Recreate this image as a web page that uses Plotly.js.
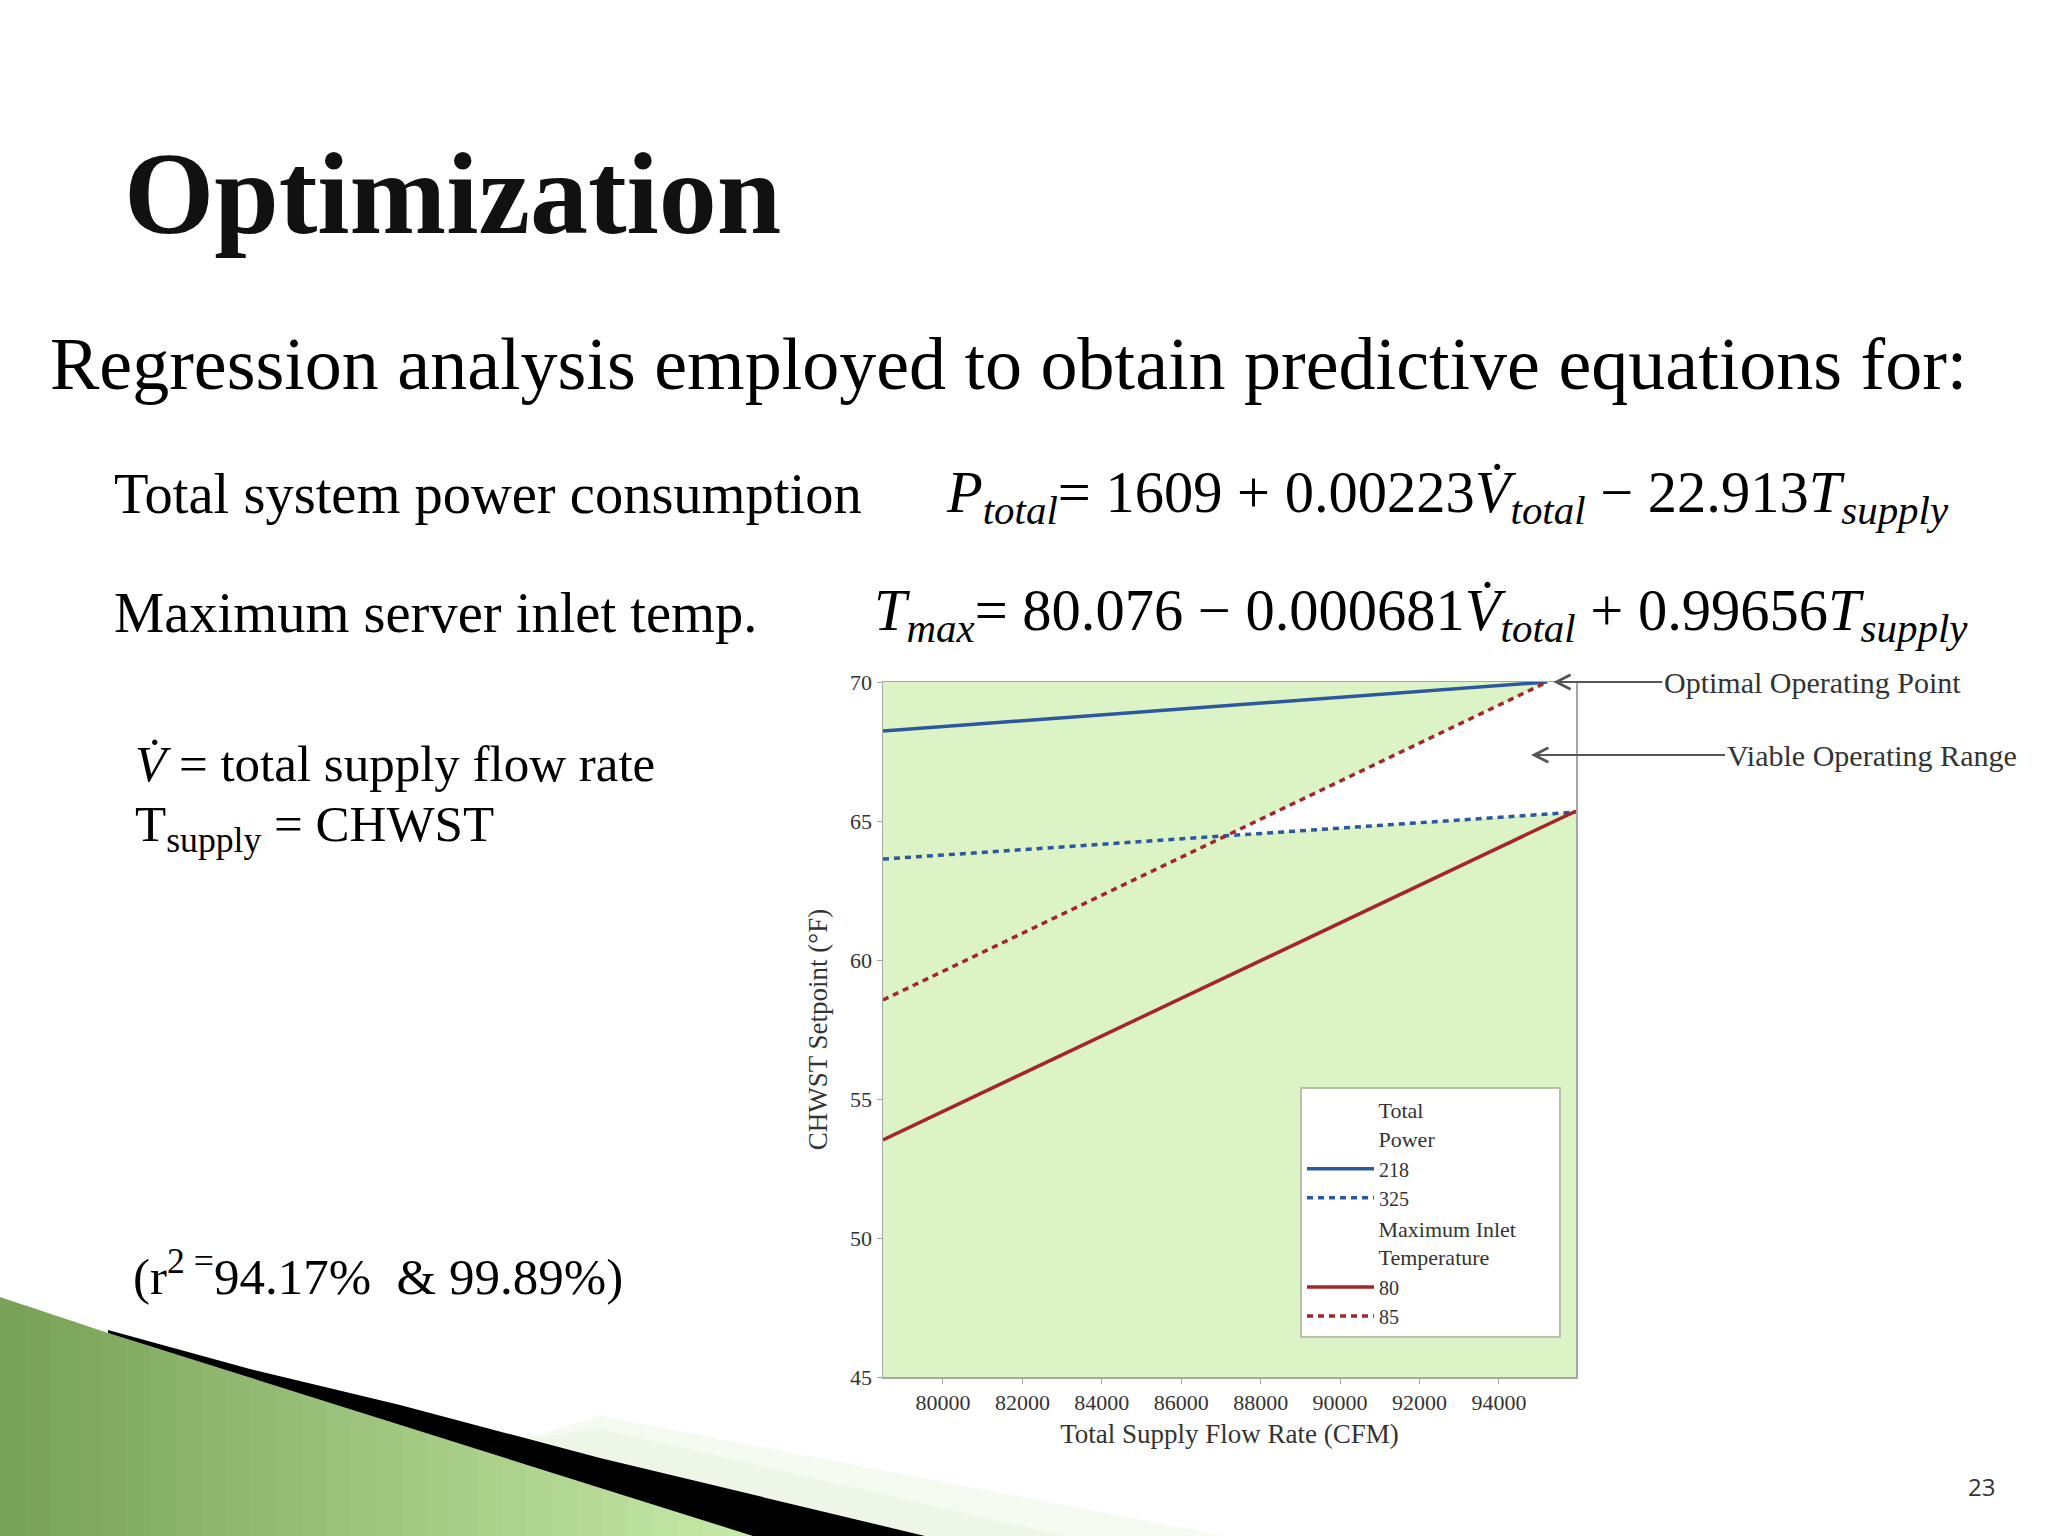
<!DOCTYPE html>
<html>
<head>
<meta charset="utf-8">
<script src="https://cdn.plot.ly/plotly-3.0.1.min.js"></script>
<style>
  html, body { margin: 0; padding: 0; background: #ffffff; }
  #chart { width: 2048px; height: 1536px; }
</style>
</head>
<body>
<div id="chart"></div>
<script>
// ---------- DATA ----------
const xRange = [78490, 95940];          // Total Supply Flow Rate (CFM)
const yRange = [45, 70];                // CHWST Setpoint (°F)
const xTickVals = [80000, 82000, 84000, 86000, 88000, 90000, 92000, 94000];
const xTickLabels = ['80000', '82000', '84000', '86000', '88000', '90000', '92000', '94000'];
const yTickVals = [45, 50, 55, 60, 65, 70];
const yTickLabels = ['45', '50', '55', '60', '65', '70'];

// Total Power contours
const power218Flow = [78490, 95216];
const power218Temp = [68.24, 70.0];
const power325Flow = [78490, 95940];
const power325Temp = [63.63, 65.32];
// Maximum Inlet Temperature contours
const inlet80Flow = [78490, 95940];
const inlet80Temp = [53.53, 65.36];
const inlet85Flow = [78490, 95216];
const inlet85Temp = [58.56, 70.0];

// ---------- helpers ----------
const L = 883, R = 1576, T = 682, B = 1377;
const px = p => (p - L) / (R - L);
const py = p => (B - p) / (B - T);

function lineAt(xs, ys, x) {
  const s = (ys[1] - ys[0]) / (xs[1] - xs[0]);
  return ys[0] + s * (x - xs[0]);
}
// intersection of the 85°F line and the 325 power line
function intersect(ax, ay, bx, by) {
  const s1 = (ay[1] - ay[0]) / (ax[1] - ax[0]);
  const s2 = (by[1] - by[0]) / (bx[1] - bx[0]);
  const x = (by[0] - ay[0] + s1 * ax[0] - s2 * bx[0]) / (s1 - s2);
  return [x, lineAt(ax, ay, x)];
}
const ip = intersect(inlet85Flow, inlet85Temp, power325Flow, power325Temp);
const viableX = [ip[0], inlet85Flow[1], xRange[1], power325Flow[1], ip[0]];
const viableY = [ip[1], inlet85Temp[1], yRange[1], power325Temp[1], ip[1]];

const BLUE = '#2c58a0';
const RED = '#a3262a';
const SERIF = 'Liberation Serif, Times New Roman, serif';
const NB = n => '\u00a0'.repeat(n);

const traces = [
  {
    x: viableX, y: viableY, type: 'scatter', mode: 'lines',
    fill: 'toself', fillcolor: '#ffffff', line: { width: 0 },
    showlegend: false, hoverinfo: 'skip'
  },
  {
    x: power218Flow, y: power218Temp, type: 'scatter', mode: 'lines', name: '218',
    line: { color: BLUE, width: 3.5 },
    legendgroup: 'power', legendgrouptitle: { text: NB(13) + 'Total<br>' + NB(13) + 'Power', font: { family: SERIF, size: 22, color: '#333' } }
  },
  {
    x: power325Flow, y: power325Temp, type: 'scatter', mode: 'lines', name: '325',
    line: { color: BLUE, width: 3.5, dash: '6px,5px' },
    legendgroup: 'power'
  },
  {
    x: inlet80Flow, y: inlet80Temp, type: 'scatter', mode: 'lines', name: '80',
    line: { color: RED, width: 3.5 },
    legendgroup: 'temp', legendgrouptitle: { text: NB(13) + 'Maximum Inlet' + NB(6) + '<br>' + NB(13) + 'Temperature', font: { family: SERIF, size: 22, color: '#333' } }
  },
  {
    x: inlet85Flow, y: inlet85Temp, type: 'scatter', mode: 'lines', name: '85',
    line: { color: RED, width: 3.5, dash: '6px,5px' },
    legendgroup: 'temp'
  }
];

function ann(text, x, y, size, extra) {
  return Object.assign({
    text: text, xref: 'paper', yref: 'paper', x: px(x), y: py(y),
    xanchor: 'left', yanchor: 'middle', showarrow: false,
    font: { family: SERIF, size: size, color: '#000' }
  }, extra || {});
}

const annotations = [
  ann('<b>Optimization</b>', 122, 194, 116, { font: { family: SERIF, size: 116, color: '#111' } }),
  ann('Regression analysis employed to obtain predictive equations for:', 48, 364, 74),
  ann('Total system power consumption', 112, 494, 56.5),
  ann('<i>P</i><sub><i>total</i></sub>= 1609 + 0.00223<i>V\u0307</i><sub><i>total</i></sub> \u2212 22.913<i>T</i><sub><i>supply</i></sub>', 944, 496, 58.5),
  ann('Maximum server inlet temp.', 112, 613, 56.5),
  ann('<i>T</i><sub><i>max</i></sub>= 80.076 \u2212 0.000681<i>V\u0307</i><sub><i>total</i></sub> + 0.99656<i>T</i><sub><i>supply</i></sub>', 872, 614, 58.5),
  ann('<i>V\u0307</i> = total supply flow rate', 133, 764, 51),
  ann('T<sub>supply</sub> = CHWST', 133, 828, 51),
  ann('(r<sup>2 =</sup>94.17%\u00a0\u00a0&amp; 99.89%)', 131, 1273, 51),
  ann('23', 1966, 1486, 24, { font: { family: 'Open Sans, sans-serif', size: 24, color: '#333' } }),
  {
    text: 'Optimal Operating Point', x: inlet85Flow[1], y: inlet85Temp[1], xref: 'x', yref: 'y',
    showarrow: true, ax: 115, ay: 0, axref: 'pixel', ayref: 'pixel', xanchor: 'left', yanchor: 'middle',
    arrowhead: 5, arrowsize: 1.4, arrowwidth: 2, arrowcolor: '#555', standoff: 6,
    font: { family: SERIF, size: 30, color: '#333' }
  },
  {
    text: 'Viable Operating Range', x: px(1531), y: py(755), xref: 'paper', yref: 'paper',
    showarrow: true, ax: 194, ay: 0, axref: 'pixel', ayref: 'pixel', xanchor: 'left', yanchor: 'middle',
    arrowhead: 5, arrowsize: 1.4, arrowwidth: 2, arrowcolor: '#555',
    font: { family: SERIF, size: 30, color: '#333' }
  }
];

// decorative swoosh (bottom-left)
function pathFrom(pts) {
  return 'M' + pts.map(p => px(p[0]) + ',' + py(p[1])).join(' L') + ' Z';
}
function greenTop(x) {
  if (x <= 108) return 1297 + (1333 - 1297) * x / 108;
  return 1333 + (1536 - 1333) * (x - 108) / (753 - 108);
}
function mix(c1, c2, t) {
  const a = [1, 3, 5].map(i => parseInt(c1.substr(i, 2), 16));
  const b = [1, 3, 5].map(i => parseInt(c2.substr(i, 2), 16));
  return 'rgb(' + a.map((v, i) => Math.round(v + (b[i] - v) * t)).join(',') + ')';
}
const shapes = [];
// faint pale-green glow above the black stripe
const glow = [['#f6fbf2', 60], ['#eef7e7', 28]];
glow.forEach(g => {
  shapes.push({ type: 'path', xref: 'paper', yref: 'paper', line: { width: 0 }, fillcolor: g[0],
    path: pathFrom([[520, 1440], [925, 1536], [925 + g[1] * 5, 1536], [600, 1440 - g[1] * 0.4]]) });
});
const nBands = 30;
for (let i = 0; i < nBands; i++) {
  const a = 753 * i / nBands, b = 753 * (i + 1) / nBands + 0.8;
  shapes.push({ type: 'path', xref: 'paper', yref: 'paper', line: { width: 0 },
    fillcolor: mix('#78a257', '#c6e9a7', i / (nBands - 1)),
    path: pathFrom([[a, greenTop(a)], [b, greenTop(b)], [b, 1536], [a, 1536]]) });
}
shapes.push({ type: 'path', xref: 'paper', yref: 'paper', line: { width: 0 }, fillcolor: '#000000',
  path: pathFrom([[108, 1330], [250, 1369], [400, 1405], [600, 1458], [925, 1536], [753, 1536], [108, 1333]]) });

const layout = {
  width: 2048, height: 1536,
  margin: { l: L, r: 2048 - R, t: T, b: 1536 - B },
  paper_bgcolor: '#ffffff',
  plot_bgcolor: '#dcf3c6',
  font: { family: SERIF, color: '#333' },
  xaxis: {
    range: xRange, tickvals: xTickVals, ticktext: xTickLabels,
    showgrid: false, zeroline: false, showline: true, mirror: true,
    linecolor: '#a4a8a0', linewidth: 1.5, ticks: 'outside', ticklen: 5, tickcolor: '#a4a8a0',
    tickfont: { family: SERIF, size: 22, color: '#333' },
    title: { text: 'Total Supply Flow Rate (CFM)', font: { family: SERIF, size: 27, color: '#333' }, standoff: 10 }
  },
  yaxis: {
    range: yRange, tickvals: yTickVals, ticktext: yTickLabels,
    showgrid: false, zeroline: false, showline: true, mirror: true,
    linecolor: '#a4a8a0', linewidth: 1.5, ticks: 'outside', ticklen: 5, tickcolor: '#a4a8a0',
    tickfont: { family: SERIF, size: 22, color: '#333' },
    title: { text: 'CHWST Setpoint (°F)', font: { family: SERIF, size: 27, color: '#333' }, standoff: 14 }
  },
  legend: {
    x: px(1300), y: py(1087), xanchor: 'left', yanchor: 'top',
    bgcolor: '#ffffff', bordercolor: '#b5c2aa', borderwidth: 2,
    font: { family: SERIF, size: 20, color: '#333' },
    traceorder: 'grouped', tracegroupgap: 0, itemwidth: 67
  },
  showlegend: true,
  annotations: annotations,
  shapes: shapes
};

Plotly.newPlot('chart', traces, layout, { displayModeBar: false, staticPlot: true });
</script>
</body>
</html>
